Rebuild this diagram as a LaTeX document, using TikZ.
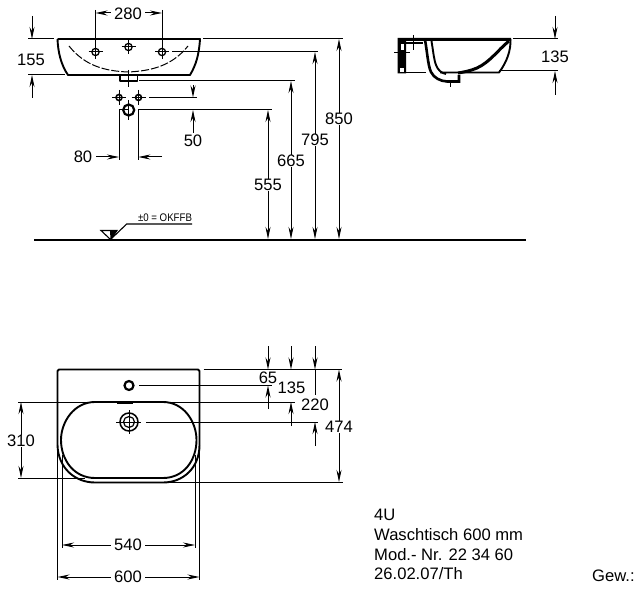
\documentclass[tikz,border=0pt]{standalone}
\usepackage{fontspec}
\setmainfont{Liberation Sans}
\usepackage{tikz}
\usetikzlibrary{arrows.meta}
\tikzset{
	outline/.style = {line width = 1.9pt, line join = round},
	thinline/.style = {line width = 1pt},
	dimline/.style = {line width = 1pt, {Stealth[length = 12pt, width = 5pt]}-{Stealth[length = 12pt, width = 5pt]}},
	dimin/.style = {line width = 1pt, -{Stealth[length = 12pt, width = 5pt]}},
	dimlabel/.style = {fill = white, inner xsep = 3.5pt, inner ysep = 0.5pt, font = \fontsize{16.6}{18}\selectfont},
	tightlabel/.style = {dimlabel, inner xsep = 0.5pt}
}

\begin{document}
\begin{tikzpicture}[x = 1pt, y = -1pt]
	\useasboundingbox (0,0) rectangle (640,591);

	% front view
	\draw[outline] (57.5,39) -- (200,39) .. controls (199,55) and (196,65) .. (190,75) -- (68,75) .. controls (61,65) and (58,52) .. (57.5,39);
	\draw[thinline, dash pattern = on 8pt off 2pt] (69,46) .. controls (85,66) and (105,71) .. (128,72) .. controls (151,71) and (172,66) .. (188,46);
	\draw[outline] (120,75) -- (120,81) -- (137.5,81) -- (137.5,75);
	\draw[thinline] (128.5,70) -- (128.5,87);
	\foreach \hx/\hy in {95.5/52, 128.5/47, 162/52} {
		\draw[line width = 1.3pt] (\hx,\hy) circle (3.6pt);
		\draw[thinline] (\hx-7,\hy) -- (\hx+7,\hy) (\hx,\hy-7) -- (\hx,\hy+7);
	}
	\foreach \hx in {119, 138.5} {
		\draw[line width = 1.6pt] (\hx,97.5) circle (3pt);
		\draw[thinline] (\hx-7,97.5) -- (\hx+7,97.5) (\hx,90) -- (\hx,105);
	}
	\draw[line width = 2.2pt] (128.7,110) circle (5.5pt);
	\draw[thinline] (128.7,100) -- (128.7,120);

	% side view
	\fill (397.5,38) -- (511,38) -- (511,41) -- (406,41) -- (406,73.5) -- (397.5,73.5) -- cycle;
	\fill[white] (399.5,68) rectangle (404,72);
	\fill[white] (401,44) rectangle (403.5,50);
	\draw[outline] (510.5,39) .. controls (511,50) and (507,62) .. (499,72.5) -- (440,72.5);
	\draw[outline] (406,72.5) -- (426,72.5);
	\draw[line width = 1.5pt] (406,43) -- (423,43);
	\draw[line width = 2.6pt] (425,40) .. controls (427,50) and (428,66) .. (431,72) .. controls (434,78) and (440,81) .. (447,81.5) -- (459,81.5) -- (459,75);
	\draw[outline] (431.5,41) .. controls (433,50) and (434,60) .. (436,65) .. controls (438,70) and (441,73) .. (446,74);
	\draw[line width = 3pt] (509,41) .. controls (498,50) and (490,62) .. (477,68) .. controls (470,71) and (464,72) .. (458,73);
	\draw[thinline] (413,35) -- (413,50) (394,52.7) -- (410,52.7) (450,82) -- (450,87);

	% floor
	\draw[line width = 2.6pt] (34,240) -- (526,240);
	\draw[line width = 1.1pt] (101,230.5) -- (117,230.5) -- (110.5,239.5) -- cycle;
	\fill (110,230.5) -- (117,230.5) -- (110.5,239.5) -- cycle;
	\draw[line width = 1.1pt] (110.5,239.5) -- (126.7,224) -- (192,224);

	% top view
	\draw[outline] (57.5,445) -- (57.5,371) -- (59,369.5) -- (198,369.5) -- (199.5,371) -- (199.5,445);
	\draw[outline] (57.5,445) .. controls (58,468) and (75,482.5) .. (95,482.5) -- (163,482.5) .. controls (183,482.5) and (199.5,468) .. (199.5,445);
	\draw[outline] (95,402) -- (163,402) .. controls (184,402) and (196.5,422) .. (196.5,440) .. controls (196.5,460) and (184,478) .. (163,478) -- (95,478) .. controls (74,478) and (61,460) .. (61,440) .. controls (61,422) and (74,402) .. (95,402);
	\draw[line width = 2.8pt] (117,402.5) -- (133,402.5);
	\draw[line width = 2.2pt] (129,385.5) circle (4.5pt);
	\draw[line width = 1.5pt] (129,422) circle (9pt);
	\draw[line width = 1.2pt] (129,422) circle (5.5pt);
	\draw[thinline] (116,422) -- (141,422) (129,410) -- (129,434);

	% extension lines
	\draw[thinline] (95.5,10) -- (95.5,52) (162,10) -- (162,52);
	\draw[thinline] (28,39) -- (54,39) (28,75) -- (65,75);
	\draw[thinline] (119,110) -- (128,110) (119,110) -- (119,160) (138.3,110) -- (138.3,160);
	\draw[thinline] (138.3,110) -- (272,110);
	\draw[thinline] (149,97.5) -- (197,97.5);
	\draw[thinline] (139,81) -- (295,81);
	\draw[thinline] (172,52) -- (318,52);
	\draw[thinline] (203,39) -- (343,39);
	\draw[thinline] (513,39) -- (558,39) (499,71) -- (558,71);
	\draw[thinline] (18,402) -- (295,402) (18,478) -- (85,478);
	\draw[thinline] (139,385) -- (272,385) (146,422) -- (318,422);
	\draw[thinline] (203.5,369.5) -- (342,369.5) (163,482) -- (342.5,482);
	\draw[thinline] (57.5,445) -- (57.5,580) (199.5,445) -- (199.5,580);
	\draw[thinline] (62,455) -- (62,548) (195,455) -- (195,548);

	% dimensions
	\draw[dimin] (118,13) -- (95.5,13);
	\draw[dimin] (140,13) -- (162,13);
	\draw[dimin] (32,16) -- (32,39);
	\draw[dimin] (32,98) -- (32,75);
	\draw[dimin] (95,157) -- (119,157);
	\draw[dimin] (162,157) -- (138.3,157);
	\draw[dimin] (193,85) -- (193,97.5);
	\draw[dimin] (193,133) -- (193,110);
	\draw[dimline] (268,110) -- (268,239);
	\draw[dimline] (291,81) -- (291,239);
	\draw[dimline] (315,52) -- (315,239);
	\draw[dimline] (339,39) -- (339,239);
	\draw[dimin] (555,16) -- (555,39);
	\draw[dimin] (555,95) -- (555,71);
	\draw[dimline] (21,402) -- (21,478);
	\draw[dimin] (268,346) -- (268,369.5);
	\draw[dimin] (268,409) -- (268,385.5);
	\draw[dimin] (291,346) -- (291,369.5);
	\draw[dimin] (291,426) -- (291,402);
	\draw[dimin] (315,346) -- (315,369.5);
	\draw[thinline] (315,369.5) -- (315,395);
	\draw[dimin] (315,446) -- (315,422);
	\draw[dimline] (339,369.5) -- (339,482);
	\draw[dimline] (62,545) -- (195,545);
	\draw[dimline] (57.5,577) -- (199.5,577);

	% labels
	\node[dimlabel] (dimA) at (128,14) {280};
	\node[dimlabel] (dimB) at (31,60) {155};
	\node[dimlabel] (dimC) at (83,157) {80};
	\node[dimlabel] (dimD) at (193,141) {50};
	\node[dimlabel] (dimE) at (268,185) {555};
	\node[dimlabel] (dimF) at (291,161) {665};
	\node[dimlabel] (dimG) at (315,140) {795};
	\node[dimlabel] (dimH) at (339,119) {850};
	\node[dimlabel] (dimI) at (555,57) {135};
	\node[dimlabel] (dimJ) at (21,441) {310};
	\node[tightlabel] (dimL) at (291.5,388) {135};
	\node[tightlabel] (dimK) at (268,378) {65};
	\node[tightlabel] (dimM) at (315,405) {220};
	\node[dimlabel] (dimN) at (339,427) {474};
	\node[dimlabel] (dimO) at (128,545) {540};
	\node[dimlabel] (dimP) at (128,577) {600};
	\node[inner sep = 0pt, xscale = 0.88, font = \fontsize{11}{12}\selectfont] (floorlabel) at (165,218) {±0 = OKFFB};
	\node[anchor = west, inner sep = 0pt, font = \fontsize{16.6}{19.7}\selectfont] (titleblock) at (374,546.5) {\begin{tabular}{@{}l@{}}
			4U \\
			Waschtisch 600 mm \\
			Mod.- Nr. 22 34 60 \\
			26.02.07/Th
	\end{tabular}};
	\node[anchor = west, inner sep = 0pt, font = \fontsize{16.6}{19.7}\selectfont] (weightlabel) at (592,576) {Gew.:};
\end{tikzpicture}
\end{document}
